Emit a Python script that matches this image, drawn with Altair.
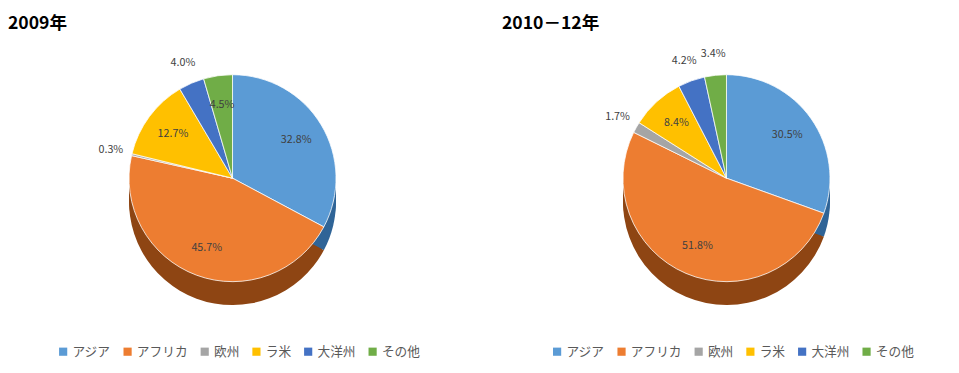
import altair as alt
import pandas as pd

regions = ["アジア", "アフリカ", "欧州", "ラ米", "大洋州", "その他"]
values_2009 = [32.8, 45.7, 0.3, 12.7, 4.0, 4.5]
values_2010 = [30.5, 51.8, 1.7, 8.4, 4.2, 3.4]
titles = ["2009年", "2010－12年"]

top_colors = ["#5B9BD5", "#ED7D31", "#A5A5A5", "#FFC000", "#4472C4", "#70AD47"]
side_colors = ["#2F6497", "#8E4513", "#6E6E6E", "#A67C00", "#2B4B85", "#487330"]

FONT = "Noto Sans CJK JP"
R = 106
W, H = 460, 278


def panel(title, vals):
    df = pd.DataFrame({"region": regions, "value": vals, "idx": list(range(len(regions)))})
    base = alt.Chart(df).encode(
        theta=alt.Theta("value:Q", stack=True),
        order=alt.Order("idx:Q"),
    )
    layers = []
    for off in [4, 8, 12, 16, 20, 24]:
        layers.append(
            base.mark_arc(outerRadius=R, yOffset=off).encode(
                color=alt.Color("region:N", scale=alt.Scale(domain=regions, range=side_colors), legend=None)
            )
        )
    top = base.mark_arc(outerRadius=R, stroke="white", strokeWidth=0.8).encode(
        color=alt.Color(
            "region:N",
            scale=alt.Scale(domain=regions, range=top_colors),
            legend=alt.Legend(
                orient="none", legendX=W / 2 - 180, legendY=310,
                direction="horizontal", title=None, symbolType="square",
                symbolSize=70, labelFontSize=13, labelColor="#595959", labelFont=FONT,
                columnPadding=10, symbolStrokeWidth=0, labelOffset=3,
            ),
        )
    )
    inner = base.transform_calculate(
        txt="datum.value >= 4.3 ? format(datum.value, '.1f') + '%' : ''",
    ).mark_text(fontSize=11, color="#404040", font=FONT, radius=76).encode(text="txt:N")
    outer = base.transform_calculate(
        txt="datum.value < 4.3 ? format(datum.value, '.1f') + '%' : ''",
    ).mark_text(fontSize=11, color="#404040", font=FONT, radius=128).encode(text="txt:N")
    ch = alt.layer(*layers, top, inner, outer).resolve_scale(color="independent").properties(
        width=W, height=H,
        title=alt.TitleParams(title, anchor="start", fontSize=18, font=FONT, fontWeight="bold",
                              color="#000000", offset=10),
    )
    return ch


chart = alt.hconcat(panel(titles[0], values_2009), panel(titles[1], values_2010), spacing=46).configure_view(
    stroke=None
).properties(padding={"top": 3, "left": 0, "right": 0, "bottom": 0})

chart.save("out.html", embed_options={"renderer": "svg", "actions": False})
